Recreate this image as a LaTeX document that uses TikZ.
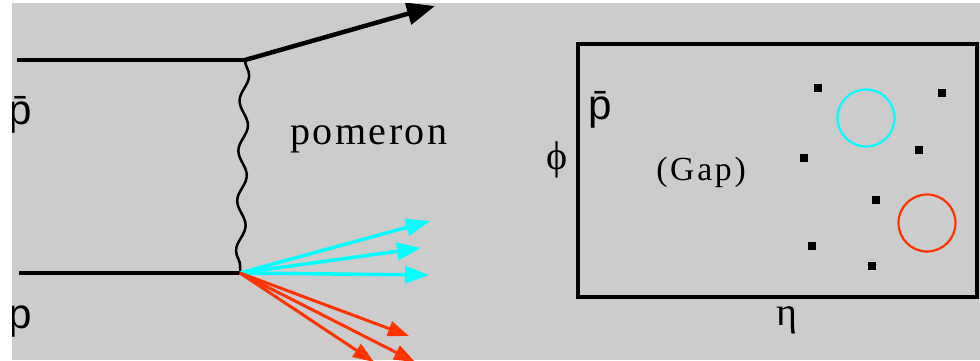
\documentclass[tikz,border=0pt]{standalone}
\usepackage{fontspec}
\setmainfont{Liberation Serif}
\setsansfont{Liberation Sans}
\usetikzlibrary{arrows.meta,decorations.pathmorphing}
\definecolor{panelgray}{RGB}{204,204,204}
\definecolor{jetcyan}{RGB}{0,255,255}
\definecolor{jetred}{RGB}{255,51,0}

\begin{document}
\begin{tikzpicture}[x=0.1mm, y=-0.1mm,
  every node/.style={inner sep=0pt, font=\fontsize{11.4}{13}\selectfont},
  proton/.style={line width=0.45mm},
  pomeronline/.style={line width=0.25mm, decorate,
    decoration={snake, amplitude=0.45mm, segment length=5mm}},
  outgoing/.style={line width=0.45mm, -{Triangle[length=2.8mm, width=2.2mm]}},
  cyanjet/.style={jetcyan, line width=0.35mm, -{Triangle[length=2.4mm, width=1.7mm]}},
  redjet/.style={jetred, line width=0.3mm, -{Triangle[length=2.1mm, width=1.5mm]}},
  hit/.style={fill=black, minimum size=0.8mm, inner sep=0pt},
  cluster/.style={line width=0.22mm}]
  \fill[white] (0,0) rectangle (980,360);
  \fill[panelgray] (12,3) rectangle (980,360);
  \useasboundingbox (0,0) rectangle (980,360);
  \clip (12,3) rectangle (980,360);

  % scattering diagram
  \begin{scope}
    \coordinate (pbarin) at (17,60);
    \coordinate (pin) at (19,273);
    \coordinate (vtop) at (245,60);
    \coordinate (vbot) at (240,273);
    \coordinate (pbarout) at (435,6);
    \draw[proton] (pbarin) -- (vtop);
    \draw[proton] (pin) -- (vbot);
    \draw[pomeronline] (vtop) -- (vbot);
    \draw[outgoing] (vtop) -- (pbarout);
    \coordinate (cya) at (430,221);
    \coordinate (cyb) at (421,248);
    \coordinate (cyc) at (429,275);
    \foreach \c in {cya,cyb,cyc}
      \draw[cyanjet] (vbot) -- (\c);
    \coordinate (rda) at (409,336);
    \coordinate (rdb) at (415,362);
    \coordinate (rdc) at (374,362);
    \foreach \r in {rda,rdb,rdc}
      \draw[redjet] (vbot) -- (\r);
    \node (pbarlab) at (20,115) {\sffamily\fontsize{12}{14}\selectfont p̄};
    \node (plab) at (20,322) {\sffamily\fontsize{12}{14}\selectfont p};
    \node[font=\fontsize{11.4}{13}\selectfont\addfontfeatures{LetterSpace=6}] (pomlab) at (369,139) {pomeron};
  \end{scope}

  % eta-phi plane
  \begin{scope}
    \draw[line width=0.45mm] (578,44) rectangle (977,297);
    \node (pbarcorner) at (600,110) {\sffamily\fontsize{12}{14}\selectfont p̄};
    \node (philab) at (557,160) {ϕ};
    \node (etalab) at (787,320) {η};
    \node[font=\fontsize{9.6}{11}\selectfont\addfontfeatures{LetterSpace=8}] (gaplab) at (701,172) {(Gap)};
    \foreach \hx/\hy in {818/88, 942/93, 804/158, 919/150, 876/200, 812/246, 872/266}
      \node[hit] at (\hx,\hy) {};
    \draw[cluster, jetcyan] (866,118) circle (2.85mm);
    \draw[cluster, jetred] (927,223) circle (2.85mm);
  \end{scope}
\end{tikzpicture}
\end{document}
